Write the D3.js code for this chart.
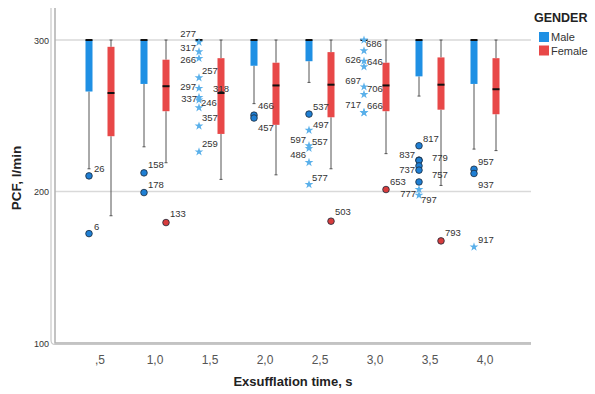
<!DOCTYPE html>
<html><head><meta charset="utf-8">
<script src="https://cdn.jsdelivr.net/npm/d3@7"></script>
<style>body{margin:0;background:#fff}svg{display:block;font-family:"Liberation Sans",Arial,sans-serif}</style>
</head><body><svg id="c" width="595" height="394"></svg>
<script>
// ---------- DATA ----------
const categories = [",5","1,0","1,5","2,0","2,5","3,0","3,5","4,0"];
const genders = ["Male","Female"];
const yTicks = [100, 200, 300];
// [lower whisker, Q1, median, Q3, upper whisker]
const maleBoxes = [
  [215, 266, 300, 300, 300],
  [229.5, 271, 300, 300, 300],
  [300, 300, 300, 300, 300],
  [258, 283, 300, 300, 300],
  [272, 286, 300, 300, 300],
  [300, 300, 300, 300, 300],
  [263, 276, 300, 300, 300],
  [228, 271, 300, 300, 300]
];
const femaleBoxes = [
  [184, 236.5, 265, 295.5, 300],
  [219, 253, 269.5, 287, 300],
  [208, 238, 265, 288, 300],
  [211, 244, 270, 285, 300],
  [215, 249, 270.5, 292, 300],
  [225, 253, 270, 285, 300],
  [204, 254, 270.5, 288.5, 300],
  [227, 251, 267.5, 288, 300]
];
// outliers: [category, gender, value, kind ("o" outlier, "*" extreme, "" label only), case label]
const outliers = [
  [",5","Male",210.3,"o","26"],
  [",5","Male",172.2,"o","6"],
  ["1,0","Male",212.3,"o","158"],
  ["1,0","Male",199.3,"o","178"],
  ["1,0","Female",179.5,"o","133"],
  ["1,5","Male",298.5,"*","277"],
  ["1,5","Male",292.3,"*","317"],
  ["1,5","Male",287.9,"*","266"],
  ["1,5","Male",275.1,"*","257"],
  ["1,5","Male",268.1,"*","297"],
  ["1,5","Male",262.1,"*","337"],
  ["1,5","Male",260.4,"*","246"],
  ["1,5","Male",255.3,"*",""],
  ["1,5","Male",243.2,"*","357"],
  ["1,5","Male",226.2,"*","259"],
  ["1,5","Female",270.3,"","318"],
  ["2,0","Male",250.4,"o","466"],
  ["2,0","Male",248.5,"o","457"],
  ["2,5","Male",251.1,"o","537"],
  ["2,5","Male",240.5,"*","497"],
  ["2,5","Male",230.2,"*","597"],
  ["2,5","Male",228.5,"*","557"],
  ["2,5","Male",219.2,"*","486"],
  ["2,5","Male",204.6,"*","577"],
  ["2,5","Female",180.4,"o","503"],
  ["3,0","Male",300,"*","686"],
  ["3,0","Male",292.9,"*",""],
  ["3,0","Male",286.1,"*","626"],
  ["3,0","Male",282.4,"*","646"],
  ["3,0","Male",269.1,"*","697"],
  ["3,0","Male",264.1,"*","706"],
  ["3,0","Male",252.2,"*","717"],
  ["3,0","Male",252.0,"*","666"],
  ["3,0","Female",201.3,"o","653"],
  ["3,5","Male",230.2,"o","817"],
  ["3,5","Male",220.7,"o","837"],
  ["3,5","Male",220.5,"o","779"],
  ["3,5","Male",216.9,"o","737"],
  ["3,5","Male",214.1,"o","757"],
  ["3,5","Male",206.3,"o",""],
  ["3,5","Male",201.3,"*","777"],
  ["3,5","Male",197.6,"*","797"],
  ["3,5","Female",167.4,"o","793"],
  ["4,0","Male",214.7,"o","957"],
  ["4,0","Male",211.9,"o","937"],
  ["4,0","Male",163.4,"*","917"]
];

// ---------- LAYOUT (label placement relative to the mark) ----------
const labelOffsets = {
  "26":[5,-7,"start"],"6":[5,-7,"start"],"158":[4,-8,"start"],"178":[4,-8,"start"],"133":[4,-9,"start"],
  "277":[-3,-8,"end"],"317":[-3,-4,"end"],"266":[-3,2,"end"],"257":[3,-7,"start"],"297":[-3,-1,"end"],
  "337":[-2,2,"end"],"246":[2,3,"start"],"357":[3,-8,"start"],"259":[3,-8,"start"],"318":[0,4,"middle"],
  "466":[4,-9,"start"],"457":[4,10,"start"],"537":[4,-7,"start"],"497":[4,-5,"start"],
  "597":[-3,-6,"end"],"557":[3,-6,"start"],"486":[-3,-7,"end"],"577":[3,-7,"start"],"503":[4,-9,"start"],
  "686":[2,4,"start"],"626":[-3,-1,"end"],"646":[3,-5,"start"],"697":[-3,-6,"end"],"706":[3,-5,"start"],
  "717":[-3,-7,"end"],"666":[3,-7,"start"],"653":[4,-8,"start"],
  "817":[4,-7,"start"],"837":[-4,-5,"end"],"779":[13,-2,"start"],"737":[-4,4,"end"],"757":[13,5,"start"],
  "777":[-3,4,"end"],"797":[2,5,"start"],"793":[4,-8,"start"],"957":[4,-7,"start"],"937":[4,12,"start"],"917":[4,-7,"start"]
};

const colors = {Male:"#1f90e4", Female:"#e84848"};
const circleFill = {Male:"#1f7fd4", Female:"#d83c3c"};

const svg = d3.select("#c");
const y = d3.scaleLinear().domain([100, 300]).range([343, 40]);
const x = d3.scaleBand().domain(categories).range([72.5, 512.5]).padding(0);
const xs = d3.scaleBand().domain(genders).range([5.5, 49.5]).padding(0);
const gx = (c, g) => x(c) + xs(g) + xs.bandwidth() / 2;
const boxW = 7;

// gridlines
svg.append("g").selectAll("line").data(yTicks.filter(t => t > 100)).join("line")
  .attr("x1", 55).attr("x2", 531).attr("y1", d => y(d)).attr("y2", d => y(d))
  .attr("stroke", "#d9d9d9").attr("stroke-width", 1.5);

// y axis double line
svg.append("path").attr("d", "M51,8 V340 Q51,344.5 55,344.5 H531").attr("fill","none").attr("stroke","#c8c8c8").attr("stroke-width",1.2);
svg.append("path").attr("d", "M55,8 V343 H531").attr("fill","none").attr("stroke","#b0b0b0").attr("stroke-width",1.5);

// y tick labels
svg.append("g").selectAll("text").data(yTicks).join("text")
  .attr("x", 49).attr("y", d => y(d) + 3.5).attr("text-anchor","end")
  .attr("font-size", 9).attr("fill", "#333").text(d => d);

// x axis labels using a d3 axis
const xAxis = svg.append("g").attr("transform","translate(0,343)")
  .call(d3.axisBottom(x).tickSize(0).tickPadding(12));
xAxis.select(".domain").remove();
xAxis.selectAll("text").attr("font-size", 12).attr("fill","#555").attr("font-family","\"Liberation Sans\",Arial,sans-serif");

// axis titles
svg.append("text").attr("x", 293).attr("y", 386).attr("text-anchor","middle")
  .attr("font-size", 13).attr("font-weight","bold").attr("fill","#222").text("Exsufflation time, s");
svg.append("text").attr("transform","translate(21,178) rotate(-90)").attr("text-anchor","middle")
  .attr("font-size", 13.5).attr("font-weight","bold").attr("fill","#222").text("PCF, l/min");

// boxes
const boxData = [];
categories.forEach((c, i) => {
  boxData.push({c, g:"Male", v: maleBoxes[i]});
  boxData.push({c, g:"Female", v: femaleBoxes[i]});
});
const bg = svg.append("g").selectAll("g").data(boxData).join("g");
bg.each(function(d) {
  const g = d3.select(this);
  const cx = gx(d.c, d.g);
  const [lo, q1, med, q3, hi] = d.v;
  g.append("line").attr("x1",cx).attr("x2",cx).attr("y1",y(hi)).attr("y2",y(q3)).attr("stroke","#555").attr("stroke-width",1);
  g.append("line").attr("x1",cx).attr("x2",cx).attr("y1",y(q1)).attr("y2",y(lo)).attr("stroke","#555").attr("stroke-width",1);
  g.append("line").attr("x1",cx-1.5).attr("x2",cx+1.5).attr("y1",y(hi)).attr("y2",y(hi)).attr("stroke","#555").attr("stroke-width",1);
  g.append("line").attr("x1",cx-1.5).attr("x2",cx+1.5).attr("y1",y(lo)).attr("y2",y(lo)).attr("stroke","#555").attr("stroke-width",1);
  g.append("rect").attr("x", cx - boxW/2).attr("y", y(q3)).attr("width", boxW)
    .attr("height", Math.max(0, y(q1) - y(q3))).attr("fill", colors[d.g]);
  g.append("line").attr("x1",cx-boxW/2).attr("x2",cx+boxW/2).attr("y1",y(med)).attr("y2",y(med))
    .attr("stroke","#111").attr("stroke-width",2);
});

// outliers
const og = svg.append("g");
const star = d3.symbol().type(d3.symbolStar).size(24);
outliers.forEach(([c, g, v, kind, lab]) => {
  const cx = gx(c, g), cy = y(v);
  if (kind === "o") {
    og.append("circle").attr("cx", cx).attr("cy", cy).attr("r", 3.3)
      .attr("fill", circleFill[g]).attr("stroke", "#1a2a3a").attr("stroke-width", 0.8);
  } else if (kind === "*") {
    og.append("path").attr("d", star).attr("transform", `translate(${cx},${cy})`).attr("fill", "#5ab0ea");
  }
  if (lab) {
    const o = labelOffsets[lab] || [4,-6,"start"];
    og.append("text").attr("x", cx + o[0]).attr("y", cy + o[1] + 3)
      .attr("text-anchor", o[2]).attr("font-size", 9.5).attr("fill", "#333").text(lab);
  }
});

// legend
const lg = svg.append("g");
lg.append("text").attr("x", 534).attr("y", 22).attr("font-size", 12.5).attr("font-weight","bold").attr("fill","#222").text("GENDER");
genders.forEach((g, i) => {
  lg.append("rect").attr("x", 539).attr("y", 32 + i*13.5).attr("width", 10).attr("height", 10).attr("fill", colors[g]);
  lg.append("text").attr("x", 551).attr("y", 41 + i*13.5).attr("font-size", 11).attr("fill","#333").text(g);
});
</script></body></html>
